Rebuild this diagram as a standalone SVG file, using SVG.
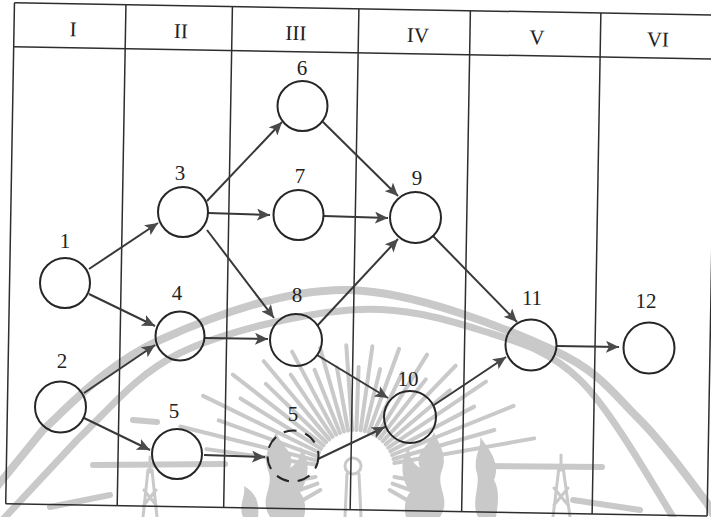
<svg xmlns="http://www.w3.org/2000/svg" width="711" height="517" viewBox="0 0 711 517">
  <style>
    .grid { stroke: #2e2e2e; stroke-width: 1.5; fill: none; }
    .hdr { font-family: "Liberation Serif", "Times New Roman", serif; font-size: 21px; fill: #222; text-anchor: middle; }
    .num { font-family: "Liberation Serif", "Times New Roman", serif; font-size: 21px; fill: #222; text-anchor: middle; }
    .node circle { fill: none; stroke: #262626; stroke-width: 2; }
    .node circle.dummy { stroke-dasharray: 13 9; }
    .edge { stroke: #383838; stroke-width: 2; fill: none; marker-end: url(#arrow); }
    .wm-line { stroke: #c9c9c9; fill: none; stroke-linecap: round; }
    .wm-fill { fill: #c9c9c9; }
  </style>
  <defs>
    <marker id="arrow" markerUnits="userSpaceOnUse" markerWidth="14" markerHeight="12" refX="13" refY="6" orient="auto">
      <path d="M0,0 L13,6 L0,12 L3,6 z" fill="#4a4a4a"/>
    </marker>
  </defs>

  <rect width="711" height="517" fill="#ffffff"/>

  <!-- background emblem: two arcs, sun rays, flames and towers -->
  <g id="emblem">
    <path class="wm-line" stroke-width="8" d="M -10,495 L 43,430 C 71,404 109,363 160,340 C 211,317 285,288 350,290 C 416,292 505,328 553,350 C 601,372 614,395 640,420 C 666,446 693,485 707,503 L 722,530"/>
    <path class="wm-line" stroke-width="7" d="M -5,528 L 77,440 C 108,411 135,375 180,353 C 226,331 300,314 350,310 C 400,306 442,318 480,330 C 518,342 548,349 580,380 C 612,411 656,490 673,517 L 685,540"/>

    <g class="wm-line" stroke-width="4">
      <line x1="395" y1="470" x2="537" y2="470" transform="rotate(-10 355 470)"/>
      <line x1="395" y1="470" x2="500" y2="470" transform="rotate(-16 355 470)"/>
      <line x1="395" y1="470" x2="526" y2="470" transform="rotate(-22 355 470)"/>
      <line x1="395" y1="470" x2="490" y2="470" transform="rotate(-28 355 470)"/>
      <line x1="395" y1="470" x2="513" y2="470" transform="rotate(-34 355 470)"/>
      <line x1="395" y1="470" x2="479" y2="470" transform="rotate(-40 355 470)"/>
      <line x1="395" y1="470" x2="500" y2="470" transform="rotate(-46 355 470)"/>
      <line x1="395" y1="470" x2="470" y2="470" transform="rotate(-52 355 470)"/>
      <line x1="395" y1="470" x2="491" y2="470" transform="rotate(-58 355 470)"/>
      <line x1="395" y1="470" x2="463" y2="470" transform="rotate(-64 355 470)"/>
      <line x1="395" y1="470" x2="484" y2="470" transform="rotate(-70 355 470)"/>
      <line x1="395" y1="470" x2="459" y2="470" transform="rotate(-76 355 470)"/>
      <line x1="395" y1="470" x2="480" y2="470" transform="rotate(-82 355 470)"/>
      <line x1="395" y1="470" x2="458" y2="470" transform="rotate(-88 355 470)"/>
      <line x1="395" y1="470" x2="480" y2="470" transform="rotate(-94 355 470)"/>
      <line x1="395" y1="470" x2="459" y2="470" transform="rotate(-100 355 470)"/>
      <line x1="395" y1="470" x2="482" y2="470" transform="rotate(-106 355 470)"/>
      <line x1="395" y1="470" x2="463" y2="470" transform="rotate(-112 355 470)"/>
      <line x1="395" y1="470" x2="489" y2="470" transform="rotate(-118 355 470)"/>
      <line x1="395" y1="470" x2="470" y2="470" transform="rotate(-124 355 470)"/>
      <line x1="395" y1="470" x2="497" y2="470" transform="rotate(-130 355 470)"/>
      <line x1="395" y1="470" x2="479" y2="470" transform="rotate(-136 355 470)"/>
      <line x1="395" y1="470" x2="510" y2="470" transform="rotate(-142 355 470)"/>
      <line x1="395" y1="470" x2="490" y2="470" transform="rotate(-148 355 470)"/>
      <line x1="395" y1="470" x2="524" y2="470" transform="rotate(-154 355 470)"/>
      <line x1="395" y1="470" x2="500" y2="470" transform="rotate(-160 355 470)"/>
      <line x1="395" y1="470" x2="535" y2="470" transform="rotate(-166 355 470)"/>
      <line x1="395" y1="470" x2="505" y2="470" transform="rotate(-172 355 470)"/>
      <line x1="395" y1="470" x2="430" y2="470" transform="rotate(10 355 470)"/>
      <line x1="395" y1="470" x2="425" y2="470" transform="rotate(20 355 470)"/>
      <line x1="395" y1="470" x2="422" y2="470" transform="rotate(30 355 470)"/>
      <line x1="395" y1="470" x2="422" y2="470" transform="rotate(150 355 470)"/>
      <line x1="395" y1="470" x2="425" y2="470" transform="rotate(160 355 470)"/>
      <line x1="395" y1="470" x2="430" y2="470" transform="rotate(170 355 470)"/>
    </g>

    <g class="wm-line" stroke-width="6">
      <line x1="93" y1="465" x2="225" y2="464"/>
      <line x1="482" y1="466" x2="602" y2="467"/>
      <line x1="133" y1="420" x2="157" y2="422"/>
      <line x1="50" y1="507" x2="110" y2="495"/>
      <line x1="573" y1="500" x2="640" y2="510"/>
    </g>

    <g class="wm-fill">
      <path d="M 270,517 C 258,498 275,488 268,470 C 262,455 272,442 276,432 C 282,448 296,452 290,468 C 300,462 302,452 300,446 C 312,462 308,480 300,492 C 306,500 306,510 304,517 Z"/>
      <path d="M 243,517 C 238,505 246,496 244,486 C 254,492 260,500 258,517 Z"/>
      <path d="M 440,517 C 452,498 435,488 442,470 C 448,455 438,442 434,432 C 428,448 414,452 420,468 C 410,462 408,452 410,446 C 398,462 402,480 410,492 C 404,500 404,510 406,517 Z"/>
      <path d="M 478,517 C 470,500 482,485 476,470 C 474,455 482,447 480,437 C 492,452 500,465 494,480 C 500,490 498,505 496,517 Z"/>
    </g>

    <g class="wm-line" stroke-width="3">
      <path d="M 150,457 L 150,472 M 143,517 L 148,470 M 157,517 L 152,470 M 144,505 L 156,490 M 144,490 L 156,505"/>
      <path d="M 561,455 L 561,470 M 553,517 L 559,467 M 570,517 L 563,467 M 554,505 L 568,488 M 554,488 L 568,505"/>
      <circle cx="353" cy="466" r="8"/>
      <path d="M 347,474 L 345,517 M 359,474 L 361,517"/>
    </g>
  </g>

  <!-- stage table, slightly turned -->
  <g id="table" transform="rotate(1)">
    <g class="grid">
      <line x1="14.5" y1="2.5" x2="716" y2="2.5"/>
      <line x1="14.5" y1="46.5" x2="716" y2="46.5"/>
      <line x1="14.5" y1="503.5" x2="716" y2="503.5"/>
      <line x1="14.5" y1="2.5" x2="14.5" y2="503.5"/>
      <line x1="126" y1="2.5" x2="126" y2="503.5"/>
      <line x1="232.5" y1="2.5" x2="232.5" y2="503.5"/>
      <line x1="359" y1="2.5" x2="359" y2="503.5"/>
      <line x1="470.5" y1="2.5" x2="470.5" y2="503.5"/>
      <line x1="601" y1="2.5" x2="601" y2="503.5"/>
      <line x1="716" y1="2.5" x2="716" y2="503.5"/>
    </g>
    <text class="hdr" x="73.5" y="35">I</text>
    <text class="hdr" x="181.5" y="35">II</text>
    <text class="hdr" x="296.5" y="35">III</text>
    <text class="hdr" x="418.5" y="35">IV</text>
    <text class="hdr" x="537.5" y="35">V</text>
    <text class="hdr" x="658.5" y="35">VI</text>
  </g>

  <!-- connectors -->
  <g id="edges">
    <line class="edge" x1="89" y1="269" x2="158" y2="223"/>
    <line class="edge" x1="89" y1="294" x2="155" y2="326"/>
    <line class="edge" x1="84" y1="393" x2="155" y2="345"/>
    <line class="edge" x1="84" y1="418" x2="150" y2="450"/>
    <line class="edge" x1="207" y1="201" x2="282" y2="122"/>
    <line class="edge" x1="208" y1="213" x2="270" y2="215"/>
    <line class="edge" x1="207" y1="230" x2="274" y2="318"/>
    <line class="edge" x1="205" y1="338" x2="268" y2="339"/>
    <line class="edge" x1="204" y1="455" x2="265" y2="457"/>
    <line class="edge" x1="318" y1="459" x2="385" y2="427"/>
    <line class="edge" x1="322" y1="121" x2="398" y2="196"/>
    <line class="edge" x1="324" y1="216" x2="388" y2="218"/>
    <line class="edge" x1="317" y1="326" x2="398" y2="239"/>
    <line class="edge" x1="317" y1="355" x2="388" y2="398"/>
    <line class="edge" x1="433" y1="236" x2="517" y2="322"/>
    <line class="edge" x1="434" y1="405" x2="506" y2="357"/>
    <line class="edge" x1="557" y1="346" x2="619" y2="347"/>
  </g>

  <!-- events -->
  <g id="n1" class="node"><circle cx="65" cy="283" r="25"/><text class="num" x="65" y="247.5">1</text></g>
  <g id="n2" class="node"><circle cx="60.5" cy="407" r="25.5"/><text class="num" x="62" y="367.5">2</text></g>
  <g id="n3" class="node"><circle cx="183" cy="212" r="25"/><text class="num" x="180" y="179.5">3</text></g>
  <g id="n4" class="node"><circle cx="180" cy="336" r="24.5"/><text class="num" x="177" y="299.5">4</text></g>
  <g id="n5" class="node"><circle cx="177" cy="454" r="25"/><text class="num" x="174" y="417.5">5</text></g>
  <g id="n5b" class="node"><circle class="dummy" cx="293" cy="456" r="25.5"/><text class="num" x="293" y="420.5">5</text></g>
  <g id="n6" class="node"><circle cx="302.5" cy="106" r="25"/><text class="num" x="302" y="75">6</text></g>
  <g id="n7" class="node"><circle cx="298.5" cy="215" r="25"/><text class="num" x="300" y="182.5">7</text></g>
  <g id="n8" class="node"><circle cx="296" cy="340" r="26"/><text class="num" x="297" y="301.5">8</text></g>
  <g id="n9" class="node"><circle cx="415.5" cy="217.5" r="25.5"/><text class="num" x="417" y="184.5">9</text></g>
  <g id="n10" class="node"><circle cx="410" cy="417" r="26"/><text class="num" x="408" y="385.5">10</text></g>
  <g id="n11" class="node"><circle cx="531" cy="345" r="25.5"/><text class="num" x="532" y="305">11</text></g>
  <g id="n12" class="node"><circle cx="649" cy="348" r="25.5"/><text class="num" x="646" y="307.5">12</text></g>
</svg>
